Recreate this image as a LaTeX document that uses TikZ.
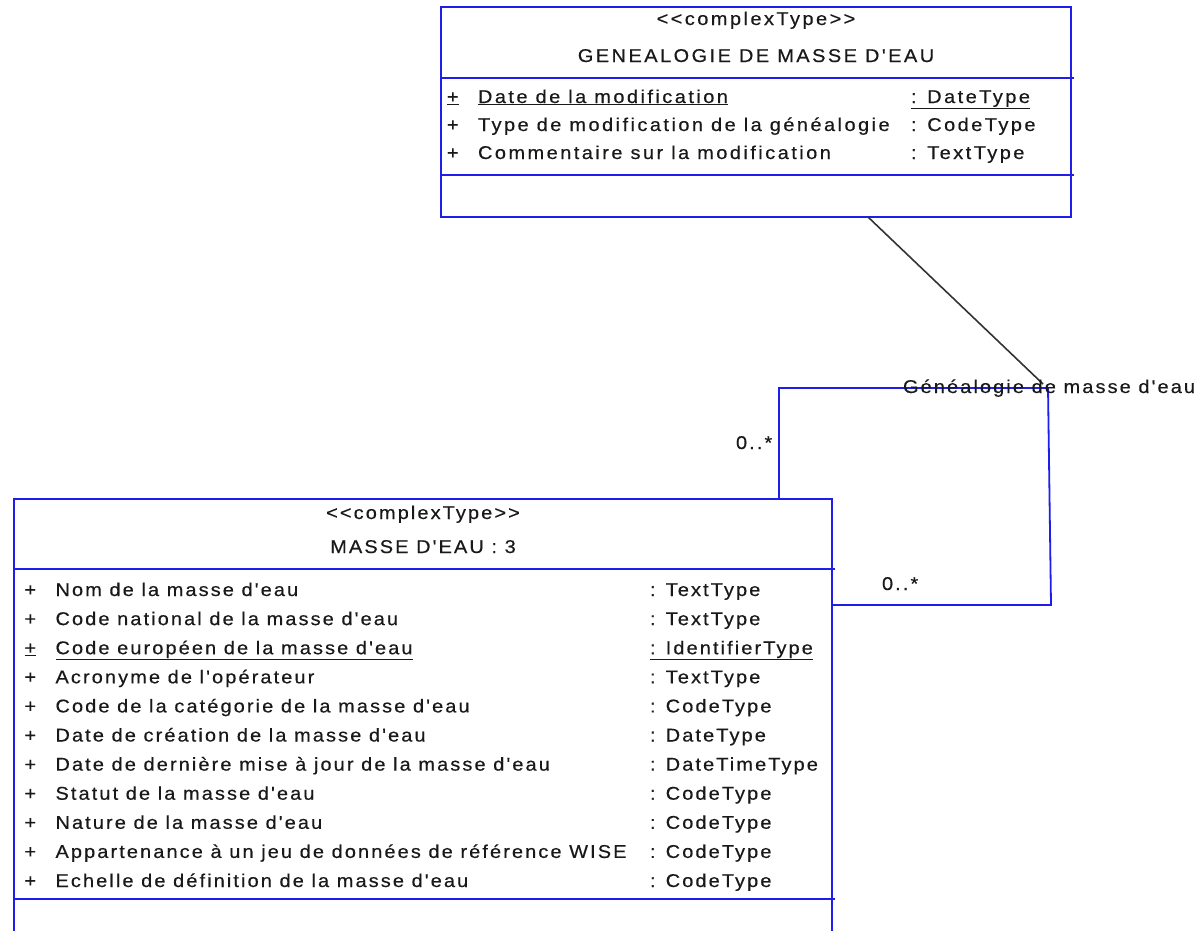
\documentclass[tikz,border=0pt]{standalone}
\usepackage{fontspec}
\setmainfont{Liberation Sans}[Ligatures={TeXOff,NoCommon},LetterSpace=11.3,FakeStretch=1.08,FakeBold=0.4]
\newfontfamily\topfont{Liberation Sans}[Ligatures={TeXOff,NoCommon},LetterSpace=13.3,FakeStretch=1.08,FakeBold=0.4]
\definecolor{umlblue}{RGB}{30,30,235}
\definecolor{inkcol}{RGB}{25,25,25}
\begin{document}
\begin{tikzpicture}[x=1pt,y=-1pt,
  font=\fontsize{18.5}{22}\selectfont,
  classbox/.style={draw=umlblue,line width=1.8pt,inner sep=0pt,outer sep=0pt},
  divider/.style={draw=umlblue,line width=1.8pt},
  assocline/.style={draw=umlblue,line width=1.8pt},
  linkline/.style={draw=black!80,line width=1.6pt},
  lbl/.style={anchor=base west,inner sep=0pt,outer sep=0pt,text=inkcol},
  ttl/.style={anchor=base,inner sep=0pt,outer sep=0pt,text=inkcol},
  toptxt/.style={font=\topfont\fontsize{18.5}{22}\selectfont}]
\clip (0,0) rectangle (1201,930);
\fill[white] (0,0) rectangle (1201,930);

% ---------- GENEALOGIE DE MASSE D'EAU ----------
\node[classbox,minimum width=630pt,minimum height=210pt] (gen) at (756,112) {};
\draw[divider] (441,78) -- (1074,78);
\draw[divider] (441,175) -- (1074,175);
\begin{scope}[toptxt]
\node[ttl] (genst) at (756,25) {<<complexType>>};
\node[ttl] (genti) at (756,62) {GENEALOGIE DE MASSE D'EAU};
\node[lbl] (gp1) at (447,103) {\underline{+}};
\node[lbl] (ga1) at (478,103) {\underline{Date de la modification}};
\node[lbl] (gt1) at (911,103) {\underline{: DateType}};
\node[lbl] (gp2) at (447,131) {+};
\node[lbl] (ga2) at (478,131) {Type de modification de la généalogie};
\node[lbl] (gt2) at (911,131) {: CodeType};
\node[lbl] (gp3) at (447,159) {+};
\node[lbl] (ga3) at (478,159) {Commentaire sur la modification};
\node[lbl] (gt3) at (911,159) {: TextType};
\end{scope}

% ---------- MASSE D'EAU : 3 ----------
\node[classbox,minimum width=818pt,minimum height=460pt] (masse) at (423,729) {};
\draw[divider] (14,569) -- (835,569);
\draw[divider] (14,899) -- (835,899);
\node[ttl] (mst) at (423,519) {<<complexType>>};
\node[ttl] (mti) at (423,553) {MASSE D'EAU : 3};

\node[lbl] (mp1) at (24.5,596) {+};
\node[lbl] (ma1) at (55.5,596) {Nom de la masse d'eau};
\node[lbl] (mt1) at (650,596) {: TextType};
\node[lbl] (mp2) at (24.5,625.1) {+};
\node[lbl] (ma2) at (55.5,625.1) {Code national de la masse d'eau};
\node[lbl] (mt2) at (650,625.1) {: TextType};
\node[lbl] (mp3) at (24.5,654.2) {\underline{+}};
\node[lbl] (ma3) at (55.5,654.2) {\underline{Code européen de la masse d'eau}};
\node[lbl] (mt3) at (650,654.2) {\underline{: IdentifierType}};
\node[lbl] (mp4) at (24.5,683.3) {+};
\node[lbl] (ma4) at (55.5,683.3) {Acronyme de l'opérateur};
\node[lbl] (mt4) at (650,683.3) {: TextType};
\node[lbl] (mp5) at (24.5,712.4) {+};
\node[lbl] (ma5) at (55.5,712.4) {Code de la catégorie de la masse d'eau};
\node[lbl] (mt5) at (650,712.4) {: CodeType};
\node[lbl] (mp6) at (24.5,741.5) {+};
\node[lbl] (ma6) at (55.5,741.5) {Date de création de la masse d'eau};
\node[lbl] (mt6) at (650,741.5) {: DateType};
\node[lbl] (mp7) at (24.5,770.6) {+};
\node[lbl] (ma7) at (55.5,770.6) {Date de dernière mise à jour de la masse d'eau};
\node[lbl] (mt7) at (650,770.6) {: DateTimeType};
\node[lbl] (mp8) at (24.5,799.7) {+};
\node[lbl] (ma8) at (55.5,799.7) {Statut de la masse d'eau};
\node[lbl] (mt8) at (650,799.7) {: CodeType};
\node[lbl] (mp9) at (24.5,828.8) {+};
\node[lbl] (ma9) at (55.5,828.8) {Nature de la masse d'eau};
\node[lbl] (mt9) at (650,828.8) {: CodeType};
\node[lbl] (mp10) at (24.5,857.9) {+};
\node[lbl] (ma10) at (55.5,857.9) {Appartenance à un jeu de données de référence WISE};
\node[lbl] (mt10) at (650,857.9) {: CodeType};
\node[lbl] (mp11) at (24.5,887) {+};
\node[lbl] (ma11) at (55.5,887) {Echelle de définition de la masse d'eau};
\node[lbl] (mt11) at (650,887) {: CodeType};

% ---------- association ----------
\coordinate (c1) at (779,388);
\coordinate (c2) at (1048,388);
\coordinate (c3) at (1051,605);
\coordinate (gx) at (868,0);
\coordinate (anchorpt) at (1043,384);
\draw[assocline] (c1 |- masse.north) -- (c1) -- (c2) -- (c3) -- (c3 -| masse.east);
\draw[linkline] (gen.south -| gx) -- (anchorpt);

\node[lbl] (rolea) at (736,449) {0..*};
\node[lbl] (roleb) at (882,590) {0..*};
\node[lbl] (aname) at (903,393) {Généalogie de masse d'eau};
\end{tikzpicture}
\end{document}
